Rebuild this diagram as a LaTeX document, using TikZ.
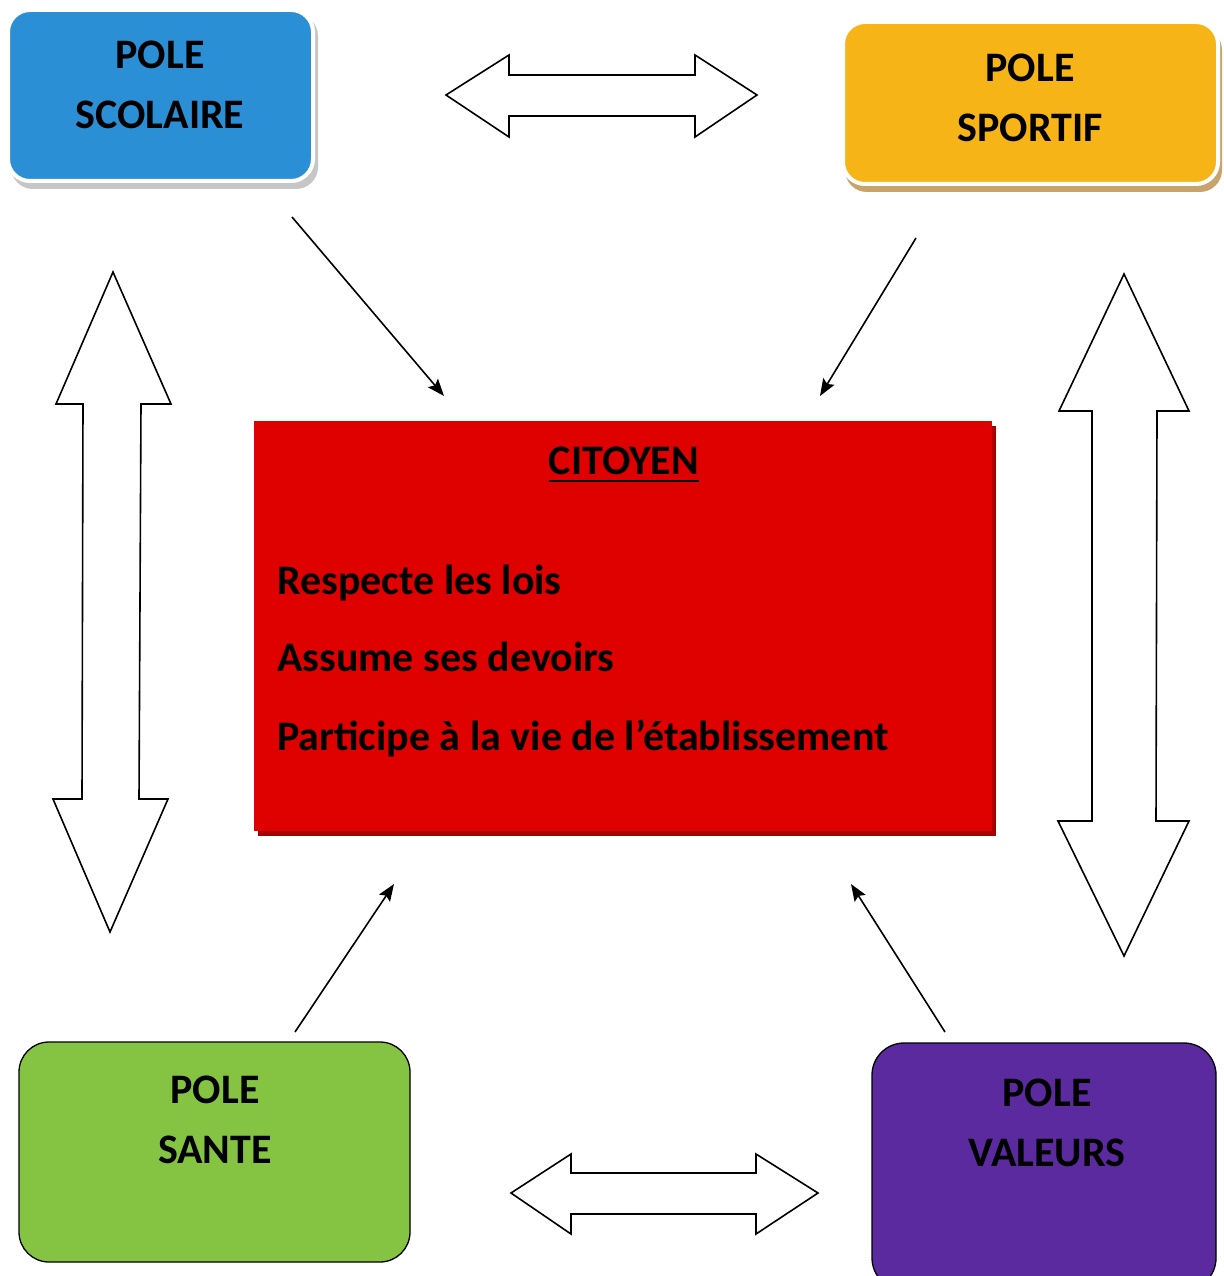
\documentclass[tikz,border=0pt]{standalone}
\usepackage{fontspec}
\setmainfont{Carlito}
\usetikzlibrary{arrows.meta,shadows}
\definecolor{cblue}{HTML}{2B8FD6}
\definecolor{cyellow}{HTML}{F6B417}
\definecolor{cgreen}{HTML}{85C443}
\definecolor{cpurple}{HTML}{5B2A9E}
\definecolor{cred}{HTML}{DF0000}
\definecolor{credsh}{HTML}{A80000}
\definecolor{ctan}{HTML}{C9A46A}
\tikzset{
  polebox/.style={rounded corners=22pt},
  poletext/.style={align=center,font=\bfseries\fontsize{42}{60}\selectfont,inner sep=0pt},
  citext/.style={anchor=base west,font=\bfseries\fontsize{42}{46}\selectfont,inner sep=0pt},
  blockarrow/.style={draw=black,line width=1.6pt,fill=white,line join=miter},
  thinarrow/.style={line width=1.6pt,-{Stealth[length=17pt,width=13pt,inset=3pt]}}
}
\begin{document}
\begin{tikzpicture}[x=1pt,y=-1pt]
\useasboundingbox (0,0) rectangle (1223,1276);
\fill[white] (0,0) rectangle (1223,1276);
% boxes
\fill[polebox,gray!45] (11,14) rectangle (318,189);
\path[polebox,fill=cblue,draw=white,line width=4pt] (8,10) rectangle (313,181) node[midway] (scol) {};
\fill[polebox,ctan] (845,28) rectangle (1222,192);
\path[polebox,fill=cyellow,draw=white,line width=4pt] (843,22) rectangle (1218,184) node[midway] (sport) {};
\path[polebox,rounded corners=30pt,fill=cgreen,draw=black,line width=1.3pt] (19,1042) rectangle (410,1262) node[midway] (sante) {};
\path[polebox,rounded corners=32pt,fill=cpurple,draw=black,line width=1.3pt] (872,1043) rectangle (1216,1290) node[midway] (val) {};
\fill[credsh] (258,426) rectangle (996,836);
\path[fill=cred] (254,421) rectangle (992,831) node[midway] (cit) {};
% texts
\node[poletext] (t1) at (160,85) {POLE\\SCOLAIRE};
\node[poletext] (t2) at (1030,97.5) {POLE\\SPORTIF};
\node[poletext] (t3) at (215,1120) {POLE\\SANTE};
\node[poletext] (t4) at (1047,1122.5) {POLE\\VALEURS};
\node[citext,anchor=base] (ct) at (624,474) {CITOYEN};
\draw[line width=2.2pt] ([yshift=-7pt]ct.base west) -- ([yshift=-7pt]ct.base east);
\node[citext] (l1) at (277,594) {Respecte les lois};
\node[citext] (l2) at (277,671) {Assume ses devoirs};
\node[citext] (l3) at (277,750) {Participe à la vie de l’établissement};
% block arrows
\draw[blockarrow] (446,95) -- (509,55) -- (509,75) -- (695,75) -- (695,55) -- (757,95) -- (695,137) -- (695,116) -- (509,116) -- (509,137) -- cycle;
\draw[blockarrow] (511,1193) -- (571,1154) -- (571,1173) -- (756,1173) -- (756,1154) -- (818,1193) -- (756,1234) -- (756,1214) -- (571,1214) -- (571,1234) -- cycle;
\draw[blockarrow] (113,272) -- (171,404) -- (141,404) -- (139,799) -- (168,799) -- (110,932) -- (53,799) -- (82,799) -- (83,404) -- (56,404) -- cycle;
\draw[blockarrow] (1124,274) -- (1189,411) -- (1157,411) -- (1156,821) -- (1189,821) -- (1124,956) -- (1058,821) -- (1092,821) -- (1092,411) -- (1059,411) -- cycle;
% thin arrows
\coordinate (s1) at (292,217); \coordinate (e1) at (444,396);
\coordinate (s2) at (916,238); \coordinate (e2) at (820,396);
\coordinate (s3) at (295,1032); \coordinate (e3) at (394,884);
\coordinate (s4) at (945,1032); \coordinate (e4) at (851,884);
\draw[thinarrow] (s1) -- (e1);
\draw[thinarrow] (s2) -- (e2);
\draw[thinarrow] (s3) -- (e3);
\draw[thinarrow] (s4) -- (e4);
\end{tikzpicture}
\end{document}
